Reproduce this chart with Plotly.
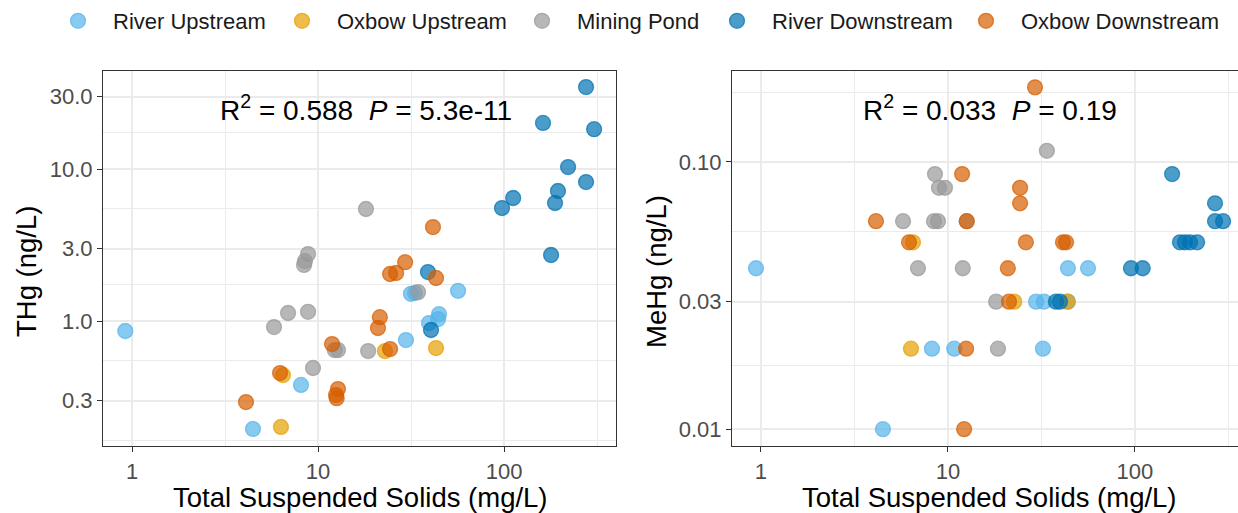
import math
import plotly.graph_objects as go

# ---- data -------------------------------------------------------------
groups = ["River Upstream", "Oxbow Upstream", "Mining Pond", "River Downstream", "Oxbow Downstream"]
colors = ["#56B4E9", "#E69F00", "#999999", "#0072B2", "#D55E00"]

# Total mercury (THg, ng/L) vs TSS (mg/L)
tss_thg_river_up = [0.92, 4.47, 8.1, 29.7, 31.6, 33.2, 56.6, 44.7, 44.2, 39.5]
thg_river_up = [0.86, 0.195, 0.38, 0.75, 1.51, 1.53, 1.58, 1.11, 1.03, 0.97]

tss_thg_oxbow_up = [6.32, 6.48, 22.9, 43.1]
thg_oxbow_up = [0.201, 0.441, 0.635, 0.664]

tss_thg_pond = [18.1, 8.84, 8.51, 8.41, 6.9, 8.84, 5.8, 12.3, 12.8, 9.4, 18.6, 34.5]
thg_pond = [5.46, 2.76, 2.48, 2.34, 1.13, 1.15, 0.913, 0.644, 0.644, 0.491, 0.635, 1.55]

tss_thg_river_down = [39.0, 40.5, 179, 276, 162, 305, 221, 276, 195, 188, 112, 97.5]
thg_river_down = [2.10, 0.873, 2.72, 34.6, 20.1, 18.3, 10.3, 8.21, 7.17, 5.98, 6.45, 5.54]

tss_thg_oxbow_down = [4.10, 6.25, 11.9, 12.8, 12.5, 12.6, 24.4, 21.0, 21.5, 24.4, 26.3, 29.4, 43.1, 41.5]
thg_oxbow_down = [0.293, 0.455, 0.706, 0.357, 0.326, 0.311, 0.654, 0.90, 1.06, 2.04, 2.07, 2.44, 1.92, 4.15]

# Methylmercury (MeHg, ng/L) vs TSS (mg/L)
tss_mehg_river_up = [0.94, 4.49, 8.21, 10.8, 32.2, 29.6, 32.6, 43.8, 43.8, 56.1]
mehg_river_up = [0.04, 0.01, 0.02, 0.02, 0.02, 0.03, 0.03, 0.03, 0.04, 0.04]

tss_mehg_oxbow_up = [6.5, 6.34, 22.6, 43.5]
mehg_oxbow_up = [0.05, 0.02, 0.03, 0.03]

tss_mehg_pond = [33.8, 8.52, 8.95, 9.64, 5.75, 8.42, 8.84, 12.6, 6.91, 12.0, 18.1, 18.5]
mehg_pond = [0.11, 0.09, 0.08, 0.08, 0.06, 0.06, 0.06, 0.06, 0.04, 0.04, 0.03, 0.02]

tss_mehg_river_down = [158, 268, 268, 296, 174, 185, 197, 215, 95.2, 110, 37.8, 39.7]
mehg_river_down = [0.09, 0.07, 0.06, 0.06, 0.05, 0.05, 0.05, 0.05, 0.04, 0.04, 0.03, 0.03]

tss_mehg_oxbow_down = [29.2, 11.9, 24.3, 24.3, 4.12, 12.6, 6.19, 26.1, 41.2, 42.8, 20.9, 21.2, 12.5, 12.2]
mehg_oxbow_down = [0.19, 0.09, 0.08, 0.07, 0.06, 0.06, 0.05, 0.05, 0.05, 0.05, 0.04, 0.03, 0.02, 0.01]

thg_x = [tss_thg_river_up, tss_thg_oxbow_up, tss_thg_pond, tss_thg_river_down, tss_thg_oxbow_down]
thg_y = [thg_river_up, thg_oxbow_up, thg_pond, thg_river_down, thg_oxbow_down]
mehg_x = [tss_mehg_river_up, tss_mehg_oxbow_up, tss_mehg_pond, tss_mehg_river_down, tss_mehg_oxbow_down]
mehg_y = [mehg_river_up, mehg_oxbow_up, mehg_pond, mehg_river_down, mehg_oxbow_down]

x_ticks = [1, 10, 100]
x_ticktext = ["1", "10", "100"]
thg_ticks = [0.3, 1, 3, 10, 30]
thg_ticktext = ["0.3", "1.0", "3.0", "10.0", "30.0"]
mehg_ticks = [0.01, 0.03, 0.1]
mehg_ticktext = ["0.01", "0.03", "0.10"]

thg_label = "R<sup>2</sup> = 0.588\u00a0\u00a0<i>P</i> = 5.3e-11"
mehg_label = "R<sup>2</sup> = 0.033\u00a0\u00a0<i>P</i> = 0.19"

# ---- styling ----------------------------------------------------------
W, H = 1238, 513
FONT = "Liberation Sans, Arial, Helvetica, sans-serif"
ALPHA = 0.7


def rgba(hex_color, a):
    h = hex_color.lstrip("#")
    r, g, b = int(h[0:2], 16), int(h[2:4], 16), int(h[4:6], 16)
    return f"rgba({r},{g},{b},{a})"


def minor_breaks(breaks):
    # midpoints in log space, extended one step beyond each end
    lb = [math.log10(b) for b in breaks]
    ext = [lb[0] - (lb[1] - lb[0])] + lb + [lb[-1] + (lb[-1] - lb[-2])]
    return [10 ** ((ext[i] + ext[i + 1]) / 2) for i in range(len(ext) - 1)]


def px_x(p):
    return p / W


def px_y(p):
    return 1 - p / H


fig = go.Figure()

legend_names = ["legend", "legend2", "legend3", "legend4", "legend5"]
for i, name in enumerate(groups):
    fill = rgba(colors[i], ALPHA)
    for panel, (xs, ys) in enumerate([(thg_x[i], thg_y[i]), (mehg_x[i], mehg_y[i])]):
        fig.add_trace(go.Scatter(
            x=xs, y=ys, mode="markers", name=name,
            xaxis="x" if panel == 0 else "x2",
            yaxis="y" if panel == 0 else "y2",
            marker=dict(size=15, color=fill, line=dict(color=fill, width=1.3)),
            showlegend=(panel == 0),
            legend=legend_names[i],
            hoverinfo="x+y+name",
        ))

axis_common = dict(
    type="log",
    showline=True, mirror=True, linecolor="#333333", linewidth=1.2,
    ticks="outside", ticklen=5, tickwidth=1.2, tickcolor="#333333",
    tickfont=dict(family=FONT, size=22, color="#4D4D4D"),
    showgrid=True, gridcolor="#EBEBEB", gridwidth=2,
    zeroline=False, automargin=False, tickmode="array",
)


def minor(vals):
    return dict(tickmode="array", tickvals=vals, showgrid=True,
                gridcolor="#EBEBEB", gridwidth=1.1, ticks="")


y_dom = [px_y(446), px_y(71)]
fig.update_layout(
    xaxis=dict(axis_common, domain=[px_x(103), px_x(616)], range=[-0.156, 2.602],
               tickvals=x_ticks, ticktext=x_ticktext, anchor="y",
               minor=minor(minor_breaks(x_ticks))),
    yaxis=dict(axis_common, domain=y_dom, range=[-0.822, 1.645],
               tickvals=thg_ticks, ticktext=thg_ticktext, anchor="x",
               minor=minor(minor_breaks(thg_ticks))),
    xaxis2=dict(axis_common, domain=[px_x(732), 1.0], range=[-0.155, 2.551],
                tickvals=x_ticks, ticktext=x_ticktext, anchor="y2",
                minor=minor(minor_breaks(x_ticks))),
    yaxis2=dict(axis_common, domain=y_dom, range=[-2.063, -0.660],
                tickvals=mehg_ticks, ticktext=mehg_ticktext, anchor="x2",
                minor=minor(minor_breaks(mehg_ticks))),
)

# one legend per group so each key sits where it should along the top row
KEY_W = 60
text_starts = [113, 337, 577, 772, 1021]
legend_font = dict(family=FONT, size=22, color="#1A1A1A")
for i, lname in enumerate(legend_names):
    fig.update_layout({lname: dict(
        x=px_x(text_starts[i] - KEY_W - 10), y=px_y(0), xanchor="left", yanchor="top",
        orientation="h", font=legend_font, bgcolor="rgba(0,0,0,0)",
        borderwidth=0, itemsizing="trace", itemwidth=KEY_W,
    )})

label_font = dict(family=FONT, size=28, color="#000000")
title_font = dict(family=FONT, size=27.5, color="#000000")
annotations = [
    dict(text=thg_label, x=px_x(366), y=px_y(108), xref="paper", yref="paper",
         showarrow=False, font=label_font, xanchor="center", yanchor="middle"),
    dict(text=mehg_label, x=px_x(990), y=px_y(108), xref="paper", yref="paper",
         showarrow=False, font=label_font, xanchor="center", yanchor="middle"),
    dict(text="Total Suspended Solids (mg/L)", x=px_x(360), y=px_y(497), xref="paper",
         yref="paper", showarrow=False, font=title_font, xanchor="center", yanchor="middle"),
    dict(text="Total Suspended Solids (mg/L)", x=px_x(989), y=px_y(497), xref="paper",
         yref="paper", showarrow=False, font=title_font, xanchor="center", yanchor="middle"),
    dict(text="THg (ng/L)", x=px_x(26), y=px_y(272), xref="paper", yref="paper",
         showarrow=False, font=title_font, textangle=-90, xanchor="center", yanchor="middle"),
    dict(text="MeHg (ng/L)", x=px_x(656), y=px_y(272), xref="paper", yref="paper",
         showarrow=False, font=title_font, textangle=-90, xanchor="center", yanchor="middle"),
]

fig.update_layout(
    width=W, height=H,
    margin=dict(l=0, r=0, t=0, b=0),
    paper_bgcolor="white", plot_bgcolor="white",
    font=dict(family=FONT),
    annotations=annotations,
    hovermode="closest",
)

fig.write_html("out.html")
